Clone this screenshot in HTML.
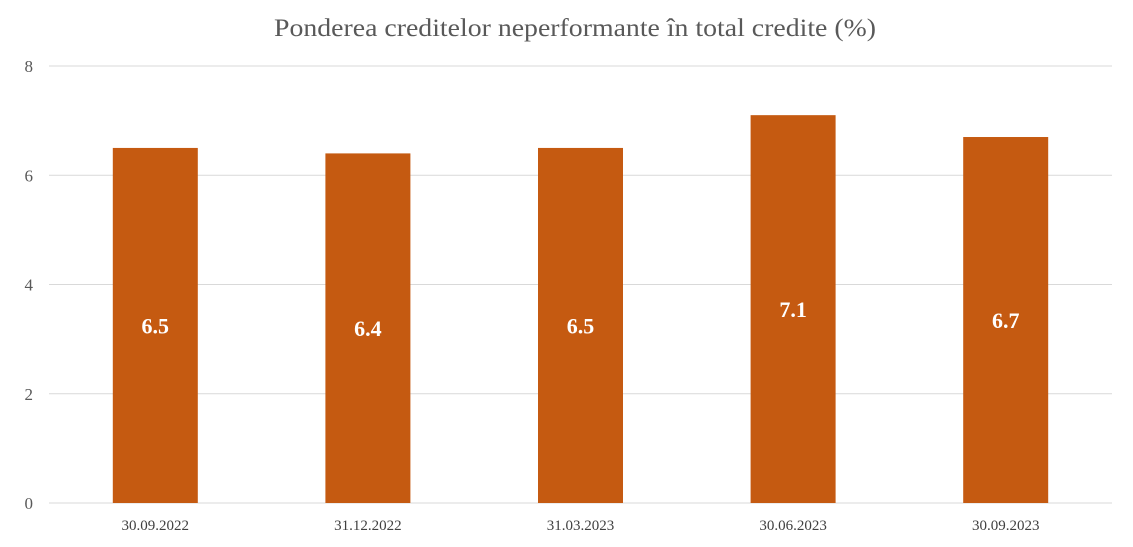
<!DOCTYPE html>
<html><head><meta charset="utf-8"><style>
body{margin:0;background:#fff;}
svg{display:block;font-family:"Liberation Serif",serif;}
</style></head><body>
<svg id="chart" width="1133" height="547">
<text x="575" y="36" text-anchor="middle" font-size="25" textLength="602" lengthAdjust="spacingAndGlyphs" fill="#595959">Ponderea creditelor neperformante în total credite (%)</text>
<g id="grid"></g><g id="bars"></g><g id="labels"></g>
</svg>
<script>
const categories=["30.09.2022","31.12.2022","31.03.2023","30.06.2023","30.09.2023"];
const values=[6.5,6.4,6.5,7.1,6.7];
const yTicks=[0,2,4,6,8];
const ns="http://www.w3.org/2000/svg";
const x0=49,x1=1112,yTop=66,yBot=503,yMax=8;
const y=v=>yBot-(v/yMax)*(yBot-yTop);
const band=(x1-x0)/categories.length;
const xc=i=>x0+band*(i+0.5);
const bw=85;
function mk(t,a,p){const e=document.createElementNS(ns,t);for(const k in a)e.setAttribute(k,a[k]);p.appendChild(e);return e;}
const g=document.getElementById('grid'),b=document.getElementById('bars'),l=document.getElementById('labels');
yTicks.forEach(t=>{
 const ln=mk('line',{x1:x0,x2:x1,y1:y(t),y2:y(t),stroke:'#d9d9d9','stroke-width':1},g);
 
 
 const tx=mk('text',{x:33,y:y(t)+6,'text-anchor':'end','font-size':17,fill:'#595959'},g);
 tx.textContent=t;
 
 
});
categories.forEach((c,i)=>{
 const r=mk('rect',{x:xc(i)-bw/2,y:y(values[i]),width:bw,height:yBot-y(values[i]),fill:'#C55A11'},b);
 
 
 const v=mk('text',{x:xc(i),y:(y(values[i])+yBot)/2+8,'text-anchor':'middle','font-size':22,'font-weight':'bold',fill:'#fff'},l);
 v.textContent=values[i].toFixed(1);
 
 
 const xl=mk('text',{x:xc(i),y:530,'text-anchor':'middle','font-size':15,fill:'#404040'},l);
 xl.textContent=c;
 
 
});
</script>
</body></html>
